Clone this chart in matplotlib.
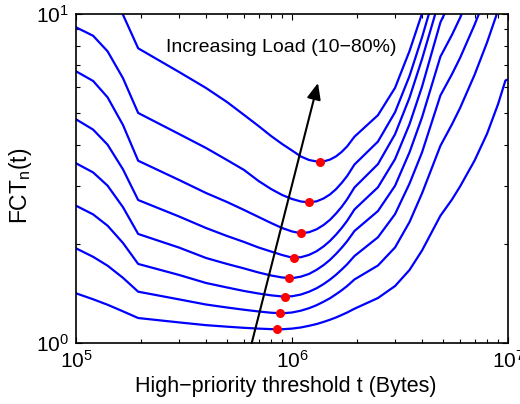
import numpy as np
import matplotlib
matplotlib.use("Agg")
import matplotlib.pyplot as plt
from matplotlib.ticker import LogLocator, NullFormatter

plt.rcParams['font.family'] = ['Liberation Sans', 'DejaVu Sans']
plt.rcParams['mathtext.fontset'] = 'custom'
plt.rcParams['mathtext.rm'] = 'Liberation Sans'
plt.rcParams['mathtext.it'] = 'Liberation Sans:italic'

nan = np.nan

# High-priority threshold t (Bytes)
threshold = [1e5, 1.2e5, 1.4e5, 1.65e5, 1.94e5, 3e5, 4e5, 5e5, 6e5, 7e5, 8e5, 9e5,
             1e6, 1.1e6, 1.2e6, 1.3e6, 1.4e6, 1.5e6, 1.6e6, 1.7e6, 1.8e6, 1.946e6,
             2.5e6, 3e6, 3.5e6, 4e6, 4.866e6, 5.5e6, 6e6, 7e6, 8e6, 9e6, 9.73e6, 1e7]

loads = [10, 20, 30, 40, 50, 60, 70, 80]

fct_10 = [1.416, 1.358, 1.307, 1.248, 1.191, 1.155, 1.133, 1.121, 1.112, 1.106, 1.102, 1.101,
          1.106, 1.115, 1.128, 1.142, 1.159, 1.177, 1.196, 1.217, 1.238, 1.271,
          1.370, 1.490, 1.667, 1.911, 2.437, 2.728, 2.991, 3.584, 4.327, 5.327, 6.281, 6.325]
fct_20 = [1.940, 1.828, 1.718, 1.578, 1.432, 1.357, 1.309, 1.282, 1.262, 1.247, 1.236, 1.231,
          1.238, 1.254, 1.276, 1.303, 1.335, 1.368, 1.407, 1.447, 1.490, 1.560,
          1.720, 1.952, 2.332, 2.851, 3.976, 4.617, 5.180, 6.530, 8.198, 10.27, nan, nan]
fct_30 = [2.614, 2.460, 2.273, 2.014, 1.739, 1.610, 1.522, 1.475, 1.439, 1.414, 1.396, 1.385,
          1.387, 1.404, 1.432, 1.467, 1.510, 1.559, 1.613, 1.673, 1.735, 1.838,
          2.096, 2.465, 3.052, 3.797, 5.656, 6.558, 7.356, 9.271, 11.54, nan, nan, nan]
fct_40 = [3.518, 3.300, 3.008, 2.587, 2.145, 1.950, 1.813, 1.739, 1.685, 1.638, 1.604, 1.582,
          1.574, 1.591, 1.622, 1.669, 1.725, 1.790, 1.866, 1.949, 2.039, 2.190,
          2.518, 3.006, 3.799, 4.853, 7.423, 8.635, 9.737, 12.41, nan, nan, nan, nan]
fct_50 = [4.786, 4.453, 4.007, 3.372, 2.720, 2.424, 2.236, 2.115, 2.028, 1.951, 1.897, 1.851,
          1.818, 1.823, 1.853, 1.901, 1.966, 2.044, 2.136, 2.238, 2.352, 2.546,
          2.974, 3.622, 4.624, 6.012, 9.436, 11.16, nan, nan, nan, nan, nan, nan]
fct_60 = [6.697, 6.259, 5.582, 4.598, 3.581, 3.130, 2.857, 2.683, 2.537, 2.416, 2.316, 2.236,
          2.183, 2.155, 2.172, 2.216, 2.284, 2.369, 2.476, 2.596, 2.734, 2.970,
          3.497, 4.312, 5.567, 7.299, 11.31, nan, nan, nan, nan, nan, nan, nan]
fct_70 = [9.111, 8.587, 7.703, 6.382, 5.003, 4.318, 3.915, 3.599, 3.356, 3.108, 2.938, 2.818,
          2.740, 2.692, 2.677, 2.695, 2.750, 2.829, 2.936, 3.069, 3.218, 3.487,
          4.095, 5.031, 6.480, 8.497, 13.17, nan, nan, nan, nan, nan, nan, nan]
fct_80 = [18.38, 15.0, 12.64, 9.95, 7.866, 6.664, 5.957, 5.402, 4.933, 4.566, 4.258, 4.026,
          3.847, 3.688, 3.599, 3.562, 3.564, 3.610, 3.693, 3.812, 3.959, 4.237,
          4.926, 5.966, 7.719, 10.04, 15.3, nan, nan, nan, nan, nan, nan, nan]

# optimal threshold (minimum FCT) for each load
opt_threshold = [8.55e5, 8.8e5, 9.25e5, 9.69e5, 1.027e6, 1.099e6, 1.203e6, 1.343e6]
opt_fct = [1.100, 1.231, 1.382, 1.573, 1.817, 2.155, 2.678, 3.557]

series = [fct_10, fct_20, fct_30, fct_40, fct_50, fct_60, fct_70, fct_80]

fig = plt.figure(figsize=(5.2, 4.04), dpi=100)
ax = fig.add_axes([76/520, 61/404, 432/520, 329/404])

for s in series:
    ax.plot(threshold, s, color=(0, 0, 1), lw=1.6, zorder=2)

ax.plot(opt_threshold, opt_fct, 'o', color=(1, 0, 0), ms=6.5, mec='none', zorder=3)

ax.set_xscale('log')
ax.set_yscale('log')
ax.set_xlim(1e5, 1e7)
ax.set_ylim(1, 10)

ax.xaxis.set_major_locator(LogLocator(base=10, numticks=10))
ax.yaxis.set_major_locator(LogLocator(base=10, numticks=10))
ax.xaxis.set_minor_locator(LogLocator(base=10, subs=np.arange(2, 10), numticks=20))
ax.yaxis.set_minor_locator(LogLocator(base=10, subs=np.arange(2, 10), numticks=20))
ax.xaxis.set_minor_formatter(NullFormatter())
ax.yaxis.set_minor_formatter(NullFormatter())

ax.tick_params(which='both', direction='in', top=True, right=True,
               labelsize=15, width=0.8, colors='k')
ax.tick_params(which='major', length=4.5, pad=5)
ax.tick_params(which='minor', length=3)
for sp in ax.spines.values():
    sp.set_linewidth(1.2)

ax.set_xlabel('High\u2212priority threshold t (Bytes)', fontsize=15.5)
ax.xaxis.set_label_coords(0.486, -0.101)
ax.set_ylabel(r'$\mathregular{FCT_{n}(t)}$', fontsize=16.5)
ax.yaxis.set_label_coords(-0.097, 0.477)

ax.text(2.61e5, 7.9, 'Increasing Load (10\u221280%)', fontsize=14, ha='left', va='center')
ax.annotate('', xy=(1.319e6, 6.17), xytext=(6.51e5, 1.0),
            arrowprops=dict(arrowstyle='-|>,head_length=0.7,head_width=0.3',
                            color='k', lw=1.5, mutation_scale=14,
                            shrinkA=0, shrinkB=0),
            zorder=4, annotation_clip=False)

fig.savefig('out.png', dpi=100)
